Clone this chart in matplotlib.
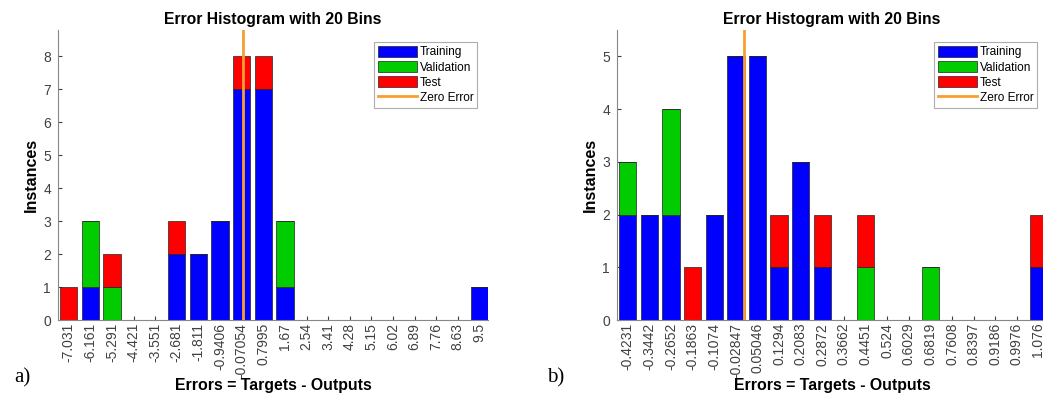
import numpy as np
import matplotlib.pyplot as plt
from matplotlib.patches import Patch
from matplotlib.lines import Line2D

# panel a) bin centres and counts
bins_a = [-7.031, -6.161, -5.291, -4.421, -3.551, -2.681, -1.811, -0.9406, -0.07054, 0.7995,
          1.67, 2.54, 3.41, 4.28, 5.15, 6.02, 6.89, 7.76, 8.63, 9.5]
labels_a = ['-7.031', '-6.161', '-5.291', '-4.421', '-3.551', '-2.681', '-1.811', '-0.9406',
            '-0.07054', '0.7995', '1.67', '2.54', '3.41', '4.28', '5.15', '6.02', '6.89',
            '7.76', '8.63', '9.5']
train_a = [0, 1, 0, 0, 0, 2, 2, 3, 7, 7, 1, 0, 0, 0, 0, 0, 0, 0, 0, 1]
valid_a = [0, 2, 1, 0, 0, 0, 0, 0, 0, 0, 2, 0, 0, 0, 0, 0, 0, 0, 0, 0]
test_a = [1, 0, 1, 0, 0, 1, 0, 0, 1, 1, 0, 0, 0, 0, 0, 0, 0, 0, 0, 0]

# panel b)
bins_b = [-0.4231, -0.3442, -0.2652, -0.1863, -0.1074, -0.02847, 0.05046, 0.1294, 0.2083, 0.2872,
          0.3662, 0.4451, 0.524, 0.6029, 0.6819, 0.7608, 0.8397, 0.9186, 0.9976, 1.076]
labels_b = ['-0.4231', '-0.3442', '-0.2652', '-0.1863', '-0.1074', '-0.02847', '0.05046',
            '0.1294', '0.2083', '0.2872', '0.3662', '0.4451', '0.524', '0.6029', '0.6819',
            '0.7608', '0.8397', '0.9186', '0.9976', '1.076']
train_b = [2, 2, 2, 0, 2, 5, 5, 1, 3, 1, 0, 0, 0, 0, 0, 0, 0, 0, 0, 1]
valid_b = [1, 0, 2, 0, 0, 0, 0, 0, 0, 0, 0, 1, 0, 0, 1, 0, 0, 0, 0, 0]
test_b = [0, 0, 0, 1, 0, 0, 0, 1, 0, 1, 0, 1, 0, 0, 0, 0, 0, 0, 0, 1]

C_TRAIN = '#0000ff'
C_VALID = '#00cc00'
C_TEST = '#ff0000'
C_ZERO = '#f5a030'
GREY = '#404040'

plt.rcParams['font.family'] = ['Liberation Sans', 'DejaVu Sans']

fig = plt.figure(figsize=(10.43, 3.94), dpi=100)
W, H = 1043.0, 394.0


def px_axes(l, t, r, b):
    return fig.add_axes([l / W, 1 - b / H, (r - l) / W, (b - t) / H])


def panel(ax, bins, labels, tr, va, te, leg_box, letter, letter_x):
    bins = np.array(bins)
    tr, va, te = np.array(tr), np.array(va), np.array(te)
    step = bins[1] - bins[0]
    w = 0.8 * step
    kw = dict(width=w, edgecolor='#222222', linewidth=0.5, zorder=2)
    ax.bar(bins, tr, color=C_TRAIN, **kw)
    ax.bar(bins, va, bottom=tr, color=C_VALID, **kw)
    ax.bar(bins, te, bottom=tr + va, color=C_TEST, **kw)
    ymax = (tr + va + te).max() * 1.1
    ax.plot([0, 0], [0, ymax], color=C_ZERO, lw=2, zorder=3)
    ax.set_xlim(bins[0] - 0.5 * step, bins[-1] + 0.4 * step)
    ax.set_ylim(0, ymax)
    ax.set_xticks(bins)
    ax.set_xticklabels(labels, rotation=90, fontsize=10, color=GREY)
    ax.set_yticks(range(int(ymax) + 1))
    ax.tick_params(axis='y', labelsize=10, labelcolor=GREY, direction='in', length=3,
                   color=GREY, pad=5)
    ax.tick_params(axis='x', direction='in', length=3, color=GREY, pad=2)
    for s in ['top', 'right']:
        ax.spines[s].set_visible(False)
    for s in ['left', 'bottom']:
        ax.spines[s].set_color('#888888')
        ax.spines[s].set_linewidth(0.8)
    ax.set_title('Error Histogram with 20 Bins', fontsize=11.3, fontweight='bold', pad=4)
    ax.set_ylabel('Instances', fontsize=11.5, fontweight='bold', labelpad=3)
    ax.set_xlabel('Errors = Targets - Outputs', fontsize=11.4, fontweight='bold', labelpad=0)
    handles = [Patch(facecolor=C_TRAIN, edgecolor='#222222', lw=0.5),
               Patch(facecolor=C_VALID, edgecolor='#222222', lw=0.5),
               Patch(facecolor=C_TEST, edgecolor='#222222', lw=0.5),
               Line2D([], [], color=C_ZERO, lw=2)]
    l, t, r, b = leg_box
    leg = fig.legend(handles, ['Training', 'Validation', 'Test', 'Zero Error'],
                     loc='upper right', bbox_to_anchor=(r / W, 1 - t / H),
                     fontsize=8.6, frameon=True, fancybox=False, borderaxespad=0,
                     handlelength=3.3, handleheight=1.1, handletextpad=0.2,
                     labelspacing=0.2, borderpad=0.3)
    leg.get_frame().set_edgecolor('#999999')
    leg.get_frame().set_linewidth(0.8)
    fig.text(letter_x / W, 1 - 378 / H, letter, fontsize=15, family='Liberation Serif',
             ha='left', va='center')


ax1 = px_axes(58, 30, 488, 320)
panel(ax1, bins_a, labels_a, train_a, valid_a, test_a, (372, 42, 477, 112), 'a)', 14)

ax2 = px_axes(617, 30, 1047, 320)
panel(ax2, bins_b, labels_b, train_b, valid_b, test_b, (930, 42, 1037, 112), 'b)', 547)

fig.savefig('out.png', dpi=100)
